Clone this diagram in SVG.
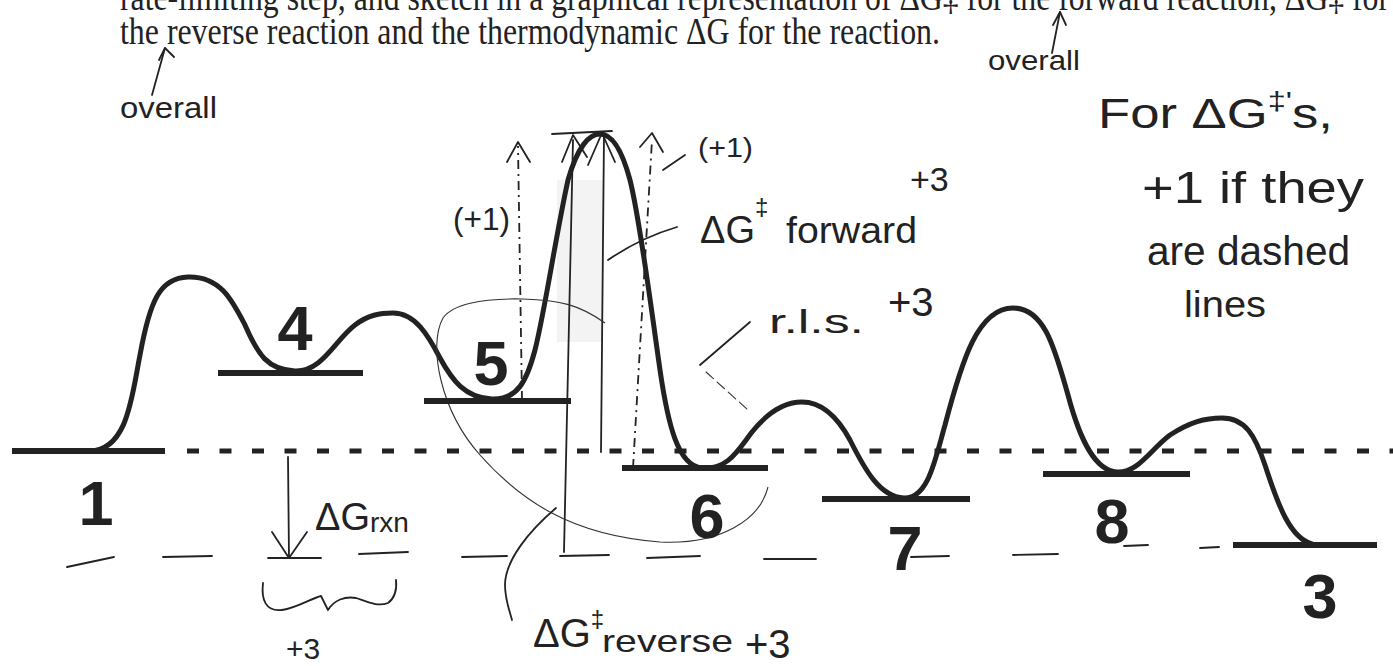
<svg xmlns="http://www.w3.org/2000/svg" width="1393" height="666" viewBox="0 0 1393 666">
<style>
.q{font-family:"Liberation Serif","Times New Roman",serif;font-size:37px;fill:#222}
.lbl{font-family:"Liberation Sans",Arial,sans-serif;font-weight:bold;font-size:63px;fill:#222;text-anchor:middle}
.hw{font-family:"Liberation Sans",Arial,sans-serif;fill:#222}
.lvl{stroke:#222;stroke-width:6;fill:none}
.thick{stroke:#222;stroke-width:5;fill:none;stroke-linecap:round;stroke-linejoin:round}
.thin{stroke:#222;stroke-width:1.8;fill:none;stroke-linecap:round;stroke-linejoin:round}
.hair{stroke:#333;stroke-width:1.1;fill:none}
.dsh{stroke:#222;stroke-width:1.8;fill:none;stroke-dasharray:9 5 2 5}
</style>
<rect width="1393" height="666" fill="#fff"/>
<g id="question">
<text class="q" x="120" y="9.5" textLength="1269" lengthAdjust="spacingAndGlyphs">rate-limiting step, and sketch in a graphical representation of ΔG‡ for the forward reaction, ΔG‡ for</text>
<text class="q" x="120" y="44" textLength="820" lengthAdjust="spacingAndGlyphs">the reverse reaction and the thermodynamic ΔG for the reaction.</text>
</g>
<rect id="shade" x="557" y="180" width="46" height="162" fill="#f3f3f3"/>
<g id="connectors">
<path id="profile" class="thick" d="M 90,451 C 128,450 132,395 140,355 C 150,300 160,278 188,277 C 220,276 232,300 245,325 C 258,355 268,370 295,371 C 322,372 335,340 355,325 C 368,315 380,313 393,313 C 415,313 428,335 440,358 C 452,380 465,398 492,399 C 518,400 527,380 535,350 C 545,310 555,240 568,180 C 578,145 590,134 600,134 C 612,134 622,150 630,180 C 640,220 650,300 660,370 C 668,425 678,466 702,468 C 728,470 738,450 752,432 C 768,412 785,402 802,402 C 822,402 838,418 850,440 C 865,470 880,497 904,498 C 928,499 935,460 945,425 C 962,360 978,308 1013,308 C 1045,308 1055,350 1068,395 C 1080,440 1095,471 1117,472 C 1138,473 1150,450 1170,435 C 1190,422 1205,418 1222,418 C 1245,418 1255,435 1265,465 C 1278,505 1290,538 1312,544"/>
<line x1="187" y1="451" x2="1393" y2="451" stroke="#222" stroke-width="5" stroke-dasharray="12 20.5"/>
<g id="lower-dashes" class="thin" stroke-width="2.4">
<path d="M67,567 L114,557"/><path d="M163,557 L212,556"/><path d="M268,558 L321,558"/><path d="M359,554 L408,552"/><path d="M462,557 L507,556"/><path d="M560,556 L609,555"/><path d="M647,558 L700,556"/><path d="M764,559 L816,559"/><path d="M911,557 L949,556"/><path d="M1013,555 L1058,554"/><path d="M1124,546 L1148,545"/><path d="M1200,548 L1219,547"/>
</g>
<g id="drxn-arrow" class="thin">
<line x1="288" y1="457" x2="289" y2="558"/>
<polyline points="272,532 289,558 307,532"/>
</g>
<path id="brace" class="thin" d="M 263,583 C 261,600 266,612 282,610 C 297,608 312,598 321,596 L 328,610 C 334,600 345,596 356,598 C 368,602 378,607 388,603 C 395,598 397,590 396,580"/>
<g id="barrier-lines">
<line class="thin" x1="552" y1="134" x2="612" y2="131" stroke-width="2.6"/>
<line class="thin" x1="573" y1="140" x2="564" y2="552" stroke-width="1.5"/>
<polyline class="thin" points="562,162 573,135 587,157" stroke-width="2.4"/>
<line class="thin" x1="604" y1="135" x2="601" y2="452" stroke-width="1.5"/>
<polyline class="thin" points="588,165 602,133 615,162" stroke-width="2.4"/>
<line class="dsh" x1="522" y1="400" x2="518" y2="146"/>
<polyline class="thin" points="507,162 518,142 530,162" stroke-width="2.2"/>
<line class="dsh" x1="633" y1="468" x2="652" y2="140"/>
<polyline class="thin" points="640,147 652,133 663,152" stroke-width="2.2"/>
</g>
<path id="rls-loop" class="hair" d="M 605,323 C 580,305 560,300 523,299 C 480,298 452,305 443,318 C 428,345 440,410 480,455 C 520,500 570,535 660,542 C 720,545 760,520 768,487"/>
<g id="leaders" class="thin">
<line x1="663" y1="170" x2="685" y2="155"/>
<path d="M 608,260 Q 640,238 677,227"/>
<line x1="700" y1="365" x2="750" y2="322"/>
<line x1="706" y1="372" x2="748" y2="410" class="hair" stroke-dasharray="10 5"/>
<path d="M 556,508 C 530,530 505,560 505,585 C 505,600 510,612 512,620"/>
<line x1="152" y1="95" x2="165" y2="48"/>
<polyline points="159,60 165,48 174,57"/>
<line x1="1052" y1="53" x2="1060" y2="12"/>
<polyline points="1053,25 1060,12 1066,25"/>
</g>
</g>
<g id="state-1"><line class="lvl" x1="12" y1="451" x2="165" y2="451"/><text class="lbl" x="96" y="525">1</text></g>
<g id="state-4"><line class="lvl" x1="218" y1="373" x2="363" y2="373"/><text class="lbl" x="295" y="350">4</text></g>
<g id="state-5"><line class="lvl" x1="424" y1="401" x2="571" y2="401"/><text class="lbl" x="491" y="385">5</text></g>
<g id="state-6"><line class="lvl" x1="622" y1="468" x2="768" y2="468"/><text class="lbl" x="707" y="538">6</text></g>
<g id="state-7"><line class="lvl" x1="822" y1="499" x2="970" y2="499"/><text class="lbl" x="905" y="570">7</text></g>
<g id="state-8"><line class="lvl" x1="1043" y1="474" x2="1190" y2="474"/><text class="lbl" x="1112" y="543">8</text></g>
<g id="state-3"><line class="lvl" x1="1233" y1="545" x2="1377" y2="545"/><text class="lbl" x="1320" y="618">3</text></g>
<g id="annotations" class="hw">
<text x="120" y="118" font-size="30" textLength="97" lengthAdjust="spacingAndGlyphs">overall</text>
<text x="988" y="70" font-size="28" textLength="92" lengthAdjust="spacingAndGlyphs">overall</text>
<text x="453" y="230" font-size="32" textLength="57" lengthAdjust="spacingAndGlyphs">(+1)</text>
<text x="698" y="157" font-size="28" textLength="55" lengthAdjust="spacingAndGlyphs">(+1)</text>
<text x="700" y="243" font-size="38">ΔG<tspan font-size="24" dy="-28">‡</tspan><tspan font-size="36" dy="28" x="786" textLength="131" lengthAdjust="spacingAndGlyphs">forward</tspan></text>
<text x="910" y="191" font-size="34">+3</text>
<text x="769" y="333" font-size="34" textLength="95" lengthAdjust="spacingAndGlyphs">r.l.s.</text>
<text x="888" y="316" font-size="40">+3</text>
<text x="1098" y="128" font-size="42" textLength="235" lengthAdjust="spacingAndGlyphs">For ΔG<tspan font-size="26" dy="-18">‡'</tspan><tspan dy="18">s,</tspan></text>
<text x="1142" y="203" font-size="44" textLength="222" lengthAdjust="spacingAndGlyphs">+1 if they</text>
<text x="1147" y="265" font-size="40" textLength="203" lengthAdjust="spacingAndGlyphs">are dashed</text>
<text x="1184" y="317" font-size="36" textLength="82" lengthAdjust="spacingAndGlyphs">lines</text>
<text x="315" y="530" font-size="38">ΔG<tspan font-size="28" dy="2">rxn</tspan></text>
<text x="286" y="659" font-size="30">+3</text>
<text x="533" y="647" font-size="40">ΔG<tspan font-size="24" dy="-20">‡</tspan><tspan font-size="32" dy="25" x="602" textLength="131" lengthAdjust="spacingAndGlyphs">reverse</tspan><tspan font-size="40" x="745" dy="6">+3</tspan></text>
</g>
</svg>
